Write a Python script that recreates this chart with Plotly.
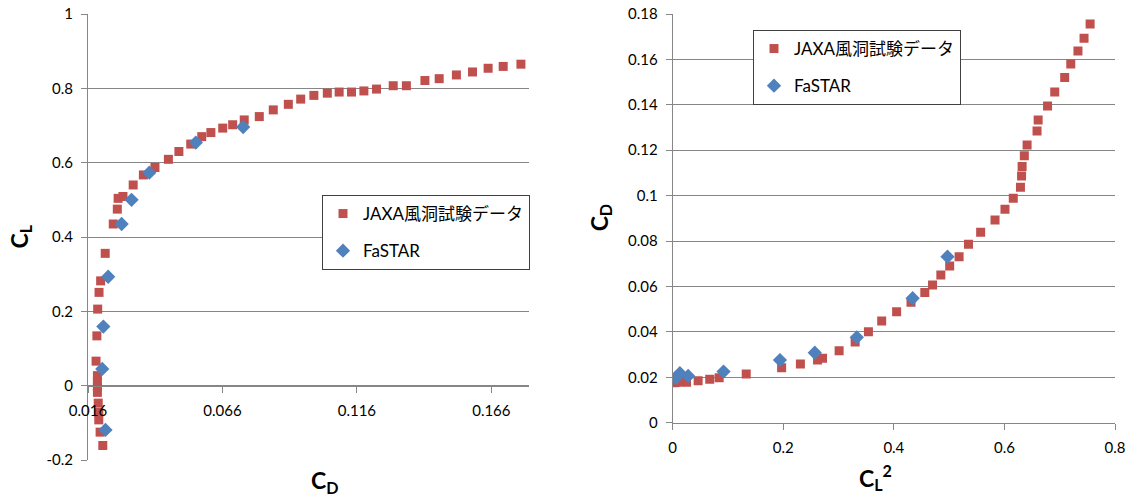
import plotly.graph_objects as go

# ---------------- data ----------------
# Left chart: CL vs CD
jaxa_cd = [0.0215, 0.0205, 0.0200, 0.0200, 0.0198, 0.0195, 0.0195, 0.0195, 0.0195,
           0.0190, 0.0193, 0.0196, 0.0201, 0.0207, 0.0224, 0.0254, 0.0269, 0.0272,
           0.0290, 0.0328, 0.0366, 0.0409, 0.0459, 0.0498, 0.0542, 0.0583, 0.0617,
           0.0661, 0.0698, 0.0741, 0.0797, 0.0849, 0.0905, 0.0951, 0.1000, 0.1050,
           0.1094, 0.1140, 0.1186, 0.1233, 0.1295, 0.1344, 0.1413, 0.1466, 0.1530,
           0.1590, 0.1648, 0.1704, 0.1770]
jaxa_cl = [-0.161, -0.125, -0.092, -0.072, -0.047, -0.018, -0.003, 0.011, 0.027,
           0.066, 0.134, 0.206, 0.251, 0.282, 0.356, 0.435, 0.475, 0.504,
           0.509, 0.540, 0.567, 0.587, 0.609, 0.630, 0.650, 0.670, 0.681,
           0.693, 0.702, 0.715, 0.724, 0.742, 0.757, 0.771, 0.781, 0.787,
           0.790, 0.790, 0.793, 0.798, 0.807, 0.807, 0.821, 0.826, 0.836,
           0.844, 0.854, 0.859, 0.865]
fastar_cd = [0.0225, 0.0213, 0.0217, 0.0235, 0.0285, 0.0322, 0.0388, 0.0561, 0.0737]
fastar_cl = [-0.119, 0.045, 0.159, 0.293, 0.435, 0.500, 0.573, 0.654, 0.696]

# Right chart: CD vs CL^2
jaxa_cl2 = [0.001, 0.004, 0.008, 0.014, 0.018, 0.025, 0.046, 0.067, 0.084, 0.133,
            0.197, 0.231, 0.262, 0.271, 0.301, 0.330, 0.354, 0.378, 0.405, 0.431,
            0.456, 0.470, 0.485, 0.501, 0.518, 0.535, 0.557, 0.583, 0.601, 0.616,
            0.629, 0.631, 0.632, 0.636, 0.641, 0.659, 0.661, 0.678, 0.691, 0.709,
            0.720, 0.733, 0.744, 0.755]
jaxa_cd2 = [0.0176, 0.0177, 0.0178, 0.0180, 0.0182, 0.0178, 0.0185, 0.0191, 0.0198, 0.0215,
            0.0242, 0.0259, 0.0276, 0.0284, 0.0317, 0.0355, 0.0401, 0.0448, 0.0489, 0.0530,
            0.0573, 0.0607, 0.0651, 0.0690, 0.0731, 0.0786, 0.0839, 0.0893, 0.0940, 0.0989,
            0.1037, 0.1087, 0.1128, 0.1176, 0.1223, 0.1285, 0.1333, 0.1395, 0.1456, 0.1520,
            0.1580, 0.1637, 0.1693, 0.1756]
fastar_cl2 = [0.006, 0.013, 0.028, 0.092, 0.194, 0.257, 0.333, 0.434, 0.497]
fastar_cd2 = [0.0198, 0.0218, 0.0206, 0.0225, 0.0276, 0.0308, 0.0376, 0.0548, 0.0731]

# tick labels
left_x_ticks = [0.016, 0.066, 0.116, 0.166]
left_x_text = ["0.016", "0.066", "0.116", "0.166"]
left_y_ticks = [-0.2, 0, 0.2, 0.4, 0.6, 0.8, 1.0]
left_y_text = ["-0.2", "0", "0.2", "0.4", "0.6", "0.8", "1"]
right_x_ticks = [0, 0.2, 0.4, 0.6, 0.8]
right_x_text = ["0", "0.2", "0.4", "0.6", "0.8"]
right_y_ticks = [0, 0.02, 0.04, 0.06, 0.08, 0.10, 0.12, 0.14, 0.16, 0.18]
right_y_text = ["0", "0.02", "0.04", "0.06", "0.08", "0.1", "0.12", "0.14", "0.16", "0.18"]

name_jaxa = "JAXA風洞試験データ"
name_fastar = "FaSTAR"

# ---------------- style ----------------
W, H = 1133, 504
RED = "#C0504D"
BLUE = "#4F81BD"
GRID = "#868686"
FONT = "Lato, 'Noto Sans CJK JP', sans-serif"

def fx(px):
    return px / W

def fy(py):
    return 1 - py / H

L_x0, L_x1, L_y0, L_y1 = 88, 529, 14, 460
R_x0, R_x1, R_y0, R_y1 = 672.7, 1115, 14, 422.7

fig = go.Figure()

sq = dict(symbol="square", size=9, color=RED)
di = dict(symbol="diamond", size=11, color=BLUE)

fig.add_trace(go.Scatter(x=jaxa_cd, y=jaxa_cl, mode="markers", marker=sq, name=name_jaxa,
                         xaxis="x", yaxis="y", legend="legend", legendgroup="a"))
fig.add_trace(go.Scatter(x=fastar_cd, y=fastar_cl, mode="markers", marker=di, name=name_fastar,
                         xaxis="x", yaxis="y", legend="legend", legendgroup="b"))
fig.add_trace(go.Scatter(x=jaxa_cl2, y=jaxa_cd2, mode="markers", marker=sq, name=name_jaxa,
                         xaxis="x2", yaxis="y2", legend="legend2", legendgroup="c"))
fig.add_trace(go.Scatter(x=fastar_cl2, y=fastar_cd2, mode="markers", marker=di, name=name_fastar,
                         xaxis="x2", yaxis="y2", legend="legend2", legendgroup="d"))

tickfont = dict(family=FONT, size=15, color="#000000")
titlefont = dict(family=FONT, size=23, color="#000000")
legfont = dict(family=FONT, size=17, color="#000000")

# y=0 position for left x axis
ly_dom = [fy(L_y1), fy(L_y0)]
zero_pos = ly_dom[0] + (0 - (-0.2)) / 1.2 * (ly_dom[1] - ly_dom[0])

common_x = dict(showgrid=False, zeroline=False, showline=True, linecolor=GRID, linewidth=1,
                ticks="outside", ticklen=6, tickcolor=GRID, tickfont=tickfont,
                ticklabelstandoff=5, automargin=False, fixedrange=True)
common_y = dict(showgrid=True, gridcolor=GRID, gridwidth=1, zeroline=False, showline=True,
                linecolor=GRID, linewidth=1, ticks="outside", ticklen=6, tickcolor=GRID,
                tickfont=tickfont, ticklabelstandoff=5, automargin=False, fixedrange=True)

fig.update_layout(
    width=W, height=H,
    margin=dict(l=0, r=0, t=0, b=0),
    paper_bgcolor="white", plot_bgcolor="white",
    font=dict(family=FONT),
    xaxis=dict(domain=[fx(L_x0), fx(L_x1)], range=[0.016, 0.18], anchor="free",
               position=zero_pos, tickvals=left_x_ticks, ticktext=left_x_text, **common_x),
    yaxis=dict(domain=ly_dom, range=[-0.2, 1.0], anchor="x", tickvals=left_y_ticks,
               ticktext=left_y_text, **common_y),
    xaxis2=dict(domain=[fx(R_x0), fx(R_x1)], range=[0, 0.8], anchor="y2",
                tickvals=right_x_ticks, ticktext=right_x_text, **common_x),
    yaxis2=dict(domain=[fy(R_y1), fy(R_y0)], range=[0, 0.18], anchor="x2",
                tickvals=right_y_ticks, ticktext=right_y_text, **common_y),
    legend=dict(x=fx(322), y=fy(195), xanchor="left", yanchor="top",
                bgcolor="white", bordercolor="#404040", borderwidth=1,
                font=legfont, itemwidth=30,
                tracegroupgap=12, traceorder="grouped"),
    legend2=dict(x=fx(753), y=fy(30), xanchor="left", yanchor="top",
                 bgcolor="white", bordercolor="#404040", borderwidth=1,
                 font=legfont, itemwidth=30,
                 tracegroupgap=12, traceorder="grouped"),
    showlegend=True,
)

# axis titles as annotations placed like the reference
fig.add_annotation(text="<b>C<sub>D</sub></b>", x=(fx(L_x0) + fx(L_x1)) / 2, y=fy(499),
                   xref="paper", yref="paper", showarrow=False, font=titlefont)
fig.add_annotation(text="<b>C<sub>L</sub></b>", x=0, xanchor="left", xshift=2,
                   y=(ly_dom[0] + ly_dom[1]) / 2,
                   xref="paper", yref="paper", showarrow=False, font=titlefont, textangle=-90)
fig.add_annotation(text="<b>C<sub>L</sub><sup>2</sup></b>", x=(fx(R_x0) + fx(R_x1)) / 2, y=fy(496),
                   xref="paper", yref="paper", showarrow=False, font=titlefont)
fig.add_annotation(text="<b>C<sub>D</sub></b>", x=fx(600), y=(fy(R_y1) + fy(R_y0)) / 2,
                   xref="paper", yref="paper", showarrow=False, font=titlefont, textangle=-90)

fig.write_html("out.html")
